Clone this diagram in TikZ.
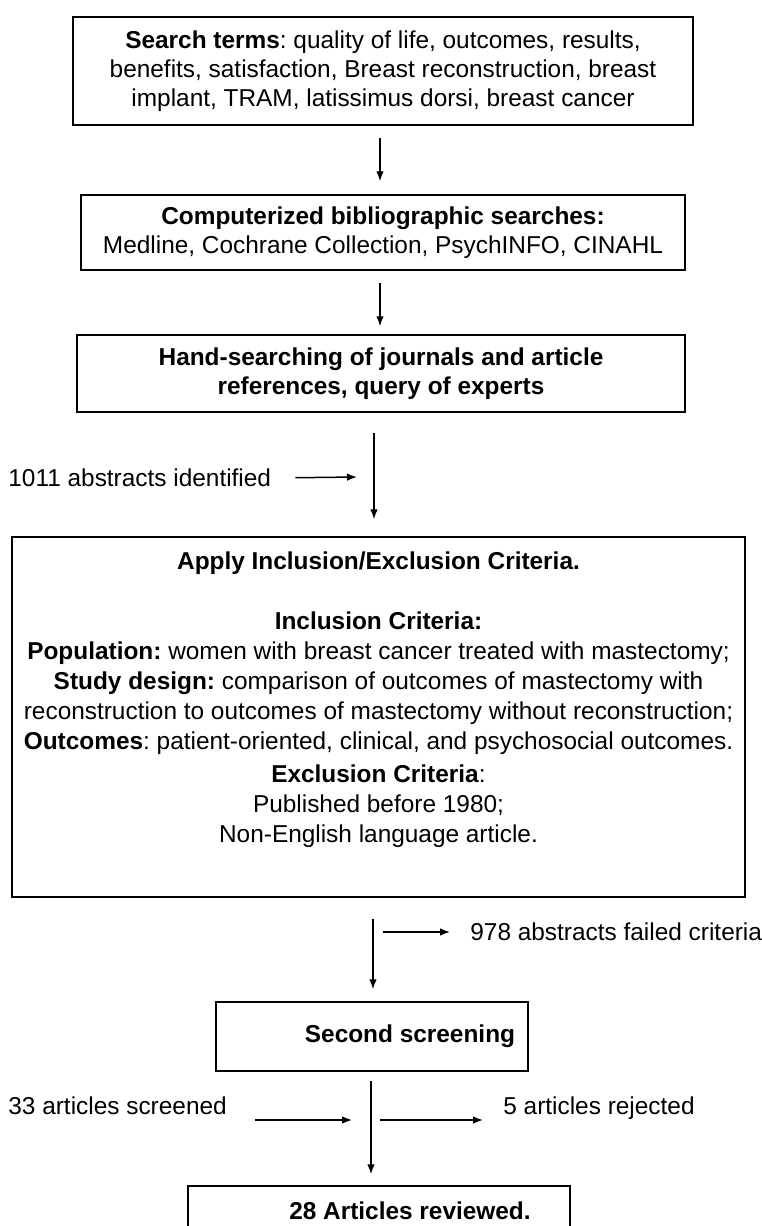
\documentclass[tikz,border=0pt]{standalone}
\usepackage{fontspec}
\setmainfont{Liberation Sans}
\usetikzlibrary{arrows.meta}
\frenchspacing

\begin{document}
\begin{tikzpicture}[x=0.5pt,y=-0.5pt]
	\tikzstyle{boite}=[draw,line width=0.75pt,inner sep=0pt,align=center,font=\fontsize{12.2pt}{14.5pt}\selectfont]
	\tikzstyle{texte}=[inner sep=0pt,align=center,font=\fontsize{12.2pt}{15pt}\selectfont]
	\tikzstyle{fleche}=[-{Latex[length=5pt,width=3.8pt]},line width=0.75pt]
	\path[use as bounding box,clip] (0,0) rectangle (761,1226);
	% boites
	\node[boite,minimum width=310pt,minimum height=54pt] (b1) at (383,71){\textbf{Search terms}: quality of life, outcomes, results,\\benefits, satisfaction, Breast reconstruction, breast\\implant, TRAM, latissimus dorsi, breast cancer};
	\node[boite,minimum width=302pt,minimum height=37.5pt] (b2) at (383,232.5){\textbf{Computerized bibliographic searches:}\\Medline, Cochrane Collection, PsychINFO, CINAHL};
	\node[boite,minimum width=304pt,minimum height=38.5pt] (b3) at (381,373.5){\textbf{Hand-searching of journals and article}\\\textbf{references, query of experts}};
	\node[boite,minimum width=366.5pt,minimum height=180pt] (b4) at (378.5,717){};
	\node[texte,anchor=north] (crit) at (378.5,551){\textbf{Apply Inclusion/Exclusion Criteria.}\\[15pt]
		\textbf{Inclusion Criteria:}\\
		\textbf{Population:} women with breast cancer treated with mastectomy;\\
		\textbf{Study design:} comparison of outcomes of mastectomy with\\
		reconstruction to outcomes of mastectomy without reconstruction;\\
		\textbf{Outcomes}: patient-oriented, clinical, and psychosocial outcomes.\\[1.5pt]
		\textbf{Exclusion Criteria}:\\
		Published before 1980;\\
		Non-English language article.};
	\node[boite,minimum width=156pt,minimum height=34.5pt] (b5) at (372,1036.5){\hspace*{38pt}\textbf{Second screening}};
	\node[boite,minimum width=191pt,minimum height=25pt] (b6) at (379,1211){\hspace*{31pt}\textbf{28 Articles reviewed.}};
	% textes lateraux
	\node[texte,anchor=west] (n1011) at (8,478){1011 abstracts identified};
	\node[texte,anchor=west] (n978) at (470,932){978 abstracts failed criteria};
	\node[texte,anchor=base west] (n33) at (8,1114){33 articles screened};
	\node[texte,anchor=base west] (n5) at (503,1114){5 articles rejected};
	\coordinate (f1011) at (357,477);
	\coordinate (d978) at (383,932);
	\coordinate (d33) at (255,1120);
	\coordinate (f33) at (352,1120);
	\coordinate (d5) at (380,1120);
	\coordinate (f5) at (483,1120);
	% fleches
	\draw[fleche,shorten <=6pt,shorten >=6.5pt] ([xshift=-1.5pt]b1.south) -- ([xshift=-1.5pt]b2.north);
	\draw[fleche,shorten <=6pt,shorten >=4pt] ([xshift=-1.5pt]b2.south) -- ([xshift=-0.5pt]b3.north);
	\draw[fleche,shorten <=10pt,shorten >=8.5pt] ([xshift=-3.5pt]b3.south) -- ([xshift=-2.25pt]b4.north);
	\draw[fleche,shorten <=10.5pt,shorten >=6pt] ([xshift=-2.75pt]b4.south) -- ([xshift=0.5pt]b5.north);
	\draw[fleche,shorten <=4.5pt,shorten >=5.5pt] ([xshift=-0.5pt]b5.south) -- ([xshift=-4pt]b6.north);
	\draw[fleche,shorten <=12pt] (n1011.east) -- (f1011);
	\draw[fleche,shorten >=10pt] (d978) -- (n978.west);
	\draw[fleche] (d33) -- (f33);
	\draw[fleche] (d5) -- (f5);
\end{tikzpicture}
\end{document}
